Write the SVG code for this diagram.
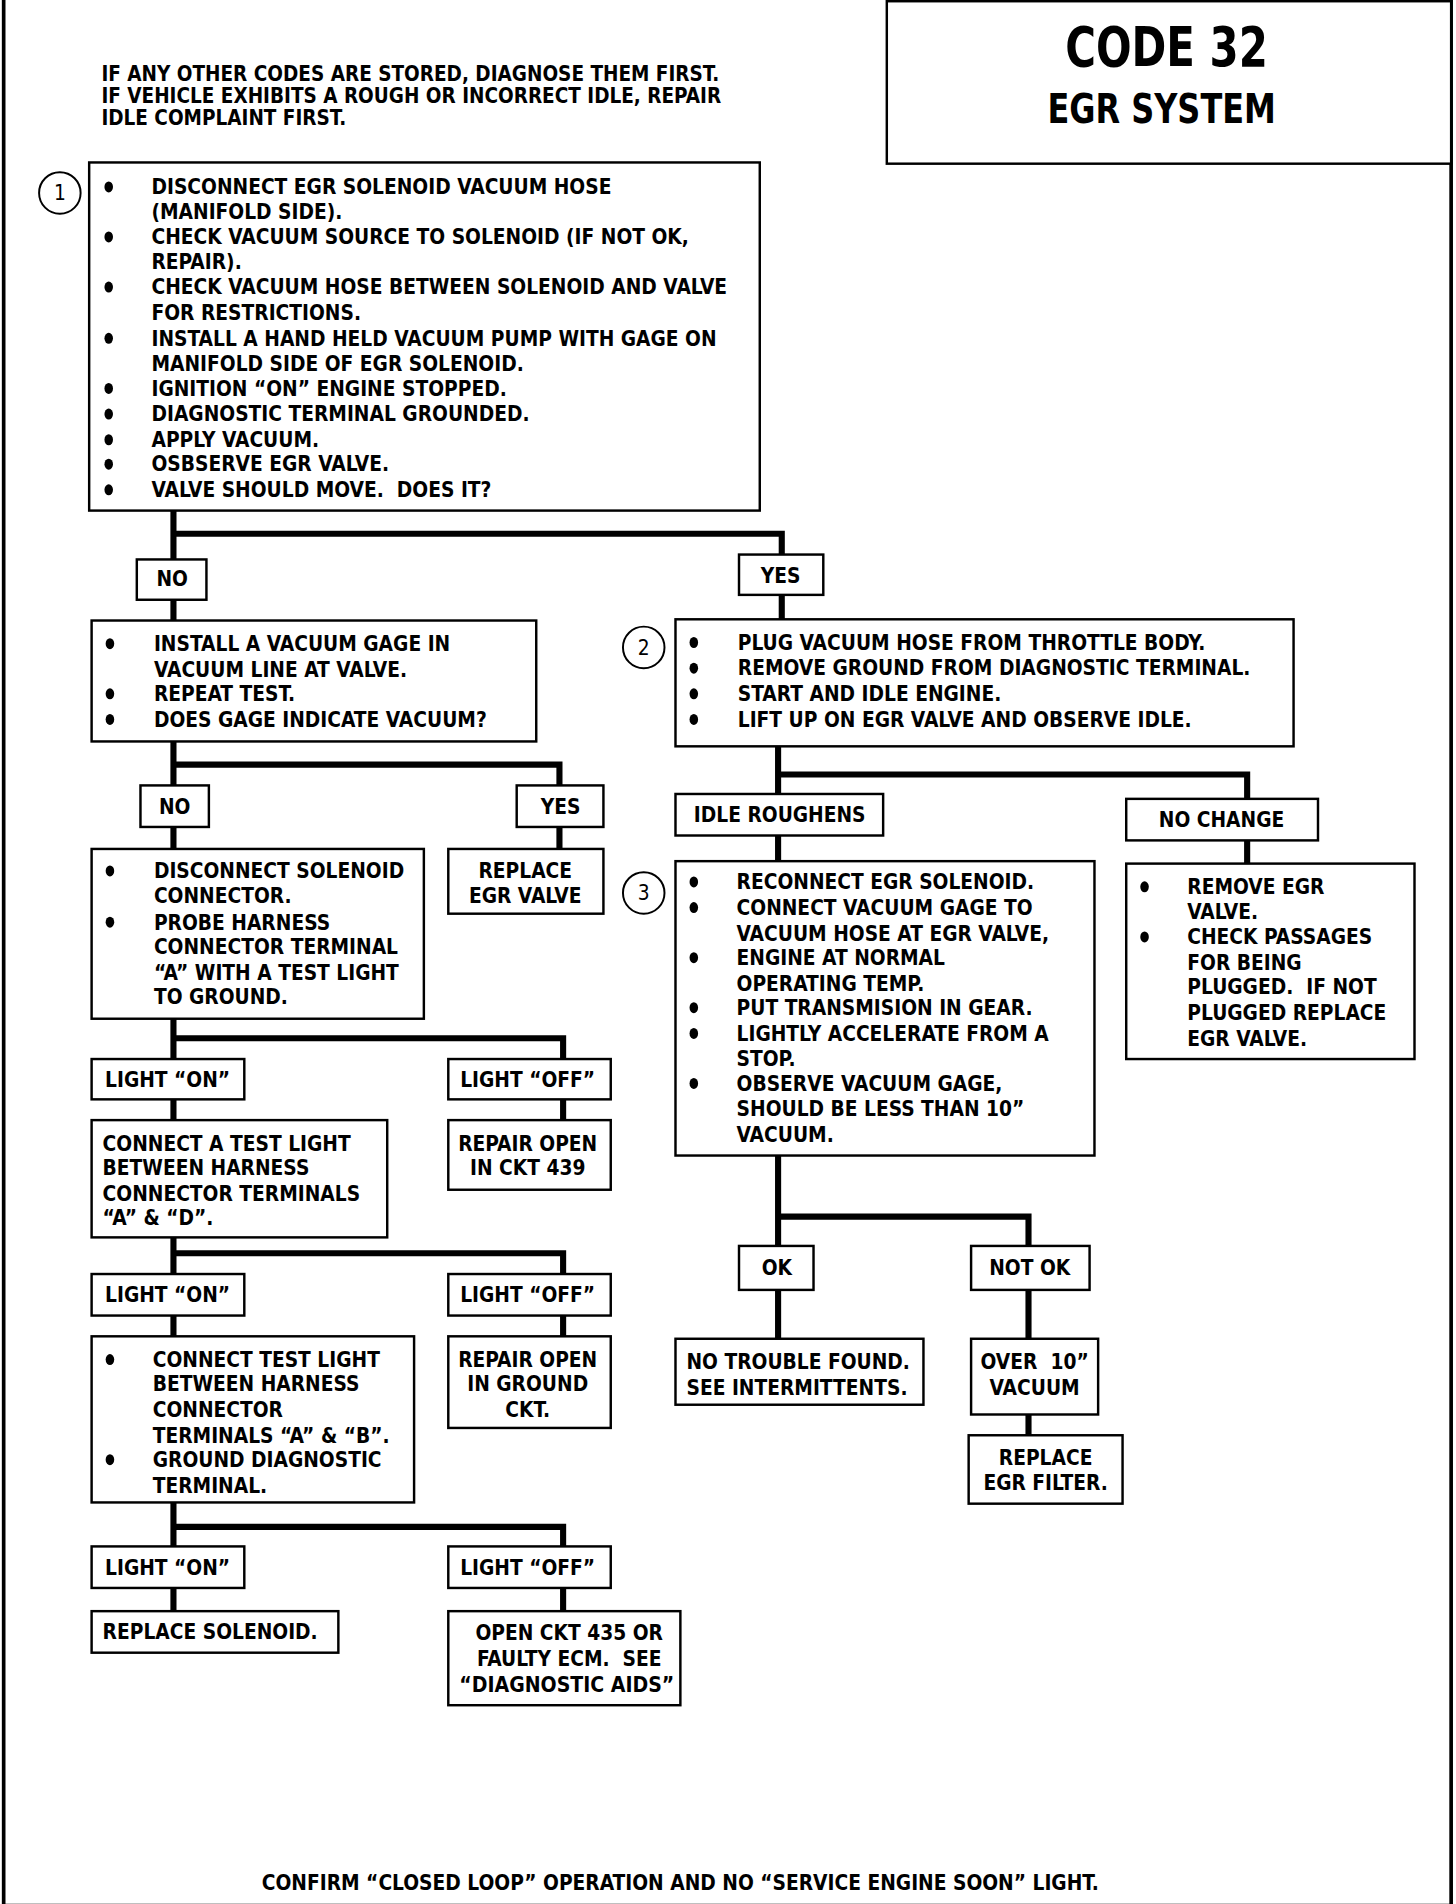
<svg xmlns="http://www.w3.org/2000/svg" width="1456" height="1904" viewBox="0 0 1456 1904">
<style>
.b{fill:#fff;stroke:#000;stroke-width:2}
.c{fill:none;stroke:#000;stroke-width:5}
.f{fill:none;stroke:#000;stroke-width:3}
text{font-family:'DejaVu Sans Condensed','Liberation Sans',sans-serif;font-weight:bold;font-size:17px;fill:#000;white-space:pre}
.m{text-anchor:middle}
.h{font-size:16.8px}
.d{fill:#000}
.n{fill:#fff;stroke:#000;stroke-width:1.6}
.nt{font-size:17px;text-anchor:middle;font-weight:normal}
</style>
<rect width="1456" height="1904" fill="#fff"/>
<g transform="scale(1.2215)">
<g id="frame">
<path class="f" d="M3,0 V1560 H1188 V0"/>
</g>
<g id="title">
<rect class="b" x="726" y="1" width="462" height="133"/>
<text class="m" x="955" y="54" style="font-size:45px" textLength="166" lengthAdjust="spacingAndGlyphs">CODE 32</text>
<text class="m" x="951" y="101" style="font-size:34px" textLength="187" lengthAdjust="spacingAndGlyphs">EGR SYSTEM</text>
</g>
<g id="note">
<text class="h" x="83" y="66">IF ANY OTHER CODES ARE STORED, DIAGNOSE THEM FIRST.</text>
<text class="h" x="83" y="84">IF VEHICLE EXHIBITS A ROUGH OR INCORRECT IDLE, REPAIR</text>
<text class="h" x="83" y="102">IDLE COMPLAINT FIRST.</text>
</g>
<g id="connectors">
<path class="c" d="M142,418 V458 M142,437 H640 V454 M142,491 V508 M640,487 V507"/>
<path class="c" d="M142,607 V643 M142,626 H458 V643 M142,677 V695 M458,677 V695"/>
<path class="c" d="M142,834 V867 M142,850 H461 V867 M142,900 V917 M461,900 V917"/>
<path class="c" d="M142,1013 V1043 M142,1026 H461 V1043 M142,1077 V1094 M461,1077 V1094"/>
<path class="c" d="M142,1230 V1266 M142,1250 H461 V1266 M142,1300 V1319 M461,1300 V1319"/>
<path class="c" d="M637,611 V650 M637,634 H1021 V654 M637,684 V705 M1021,688 V707"/>
<path class="c" d="M637,946 V1020 M637,996 H842 V1020 M637,1056 V1096 M842,1056 V1096 M842,1158 V1175"/>
</g>
<g id="step1">
<circle class="n" cx="49" cy="158" r="17"/>
<text class="nt" x="49" y="164">1</text>
<rect class="b" x="73" y="133" width="549" height="285"/>
<g class="d">
<ellipse cx="89" cy="153" rx="3.5" ry="4.5"/><ellipse cx="89" cy="194" rx="3.5" ry="4.5"/><ellipse cx="89" cy="235" rx="3.5" ry="4.5"/><ellipse cx="89" cy="277" rx="3.5" ry="4.5"/><ellipse cx="89" cy="318" rx="3.5" ry="4.5"/><ellipse cx="89" cy="339" rx="3.5" ry="4.5"/><ellipse cx="89" cy="360" rx="3.5" ry="4.5"/><ellipse cx="89" cy="380" rx="3.5" ry="4.5"/><ellipse cx="89" cy="401" rx="3.5" ry="4.5"/>
</g>
<text x="124" y="159">DISCONNECT EGR SOLENOID VACUUM HOSE</text>
<text x="124" y="179">(MANIFOLD SIDE).</text>
<text x="124" y="200">CHECK VACUUM SOURCE TO SOLENOID (IF NOT OK,</text>
<text x="124" y="220">REPAIR).</text>
<text x="124" y="241">CHECK VACUUM HOSE BETWEEN SOLENOID AND VALVE</text>
<text x="124" y="262">FOR RESTRICTIONS.</text>
<text x="124" y="283">INSTALL A HAND HELD VACUUM PUMP WITH GAGE ON</text>
<text x="124" y="304">MANIFOLD SIDE OF EGR SOLENOID.</text>
<text x="124" y="324">IGNITION “ON” ENGINE STOPPED.</text>
<text x="124" y="345">DIAGNOSTIC TERMINAL GROUNDED.</text>
<text x="124" y="366">APPLY VACUUM.</text>
<text x="124" y="386">OSBSERVE EGR VALVE.</text>
<text x="124" y="407">VALVE SHOULD MOVE.  DOES IT?</text>
</g>
<g id="no1"><rect class="b" x="112" y="458" width="57" height="33"/><text class="m" x="141" y="480">NO</text></g>
<g id="yes1"><rect class="b" x="605" y="454" width="69" height="33"/><text class="m" x="639" y="477">YES</text></g>
<g id="boxA">
<rect class="b" x="75" y="508" width="364" height="99"/>
<g class="d"><ellipse cx="90" cy="527" rx="3.5" ry="4.5"/><ellipse cx="90" cy="568" rx="3.5" ry="4.5"/><ellipse cx="90" cy="589" rx="3.5" ry="4.5"/></g>
<text x="126" y="533">INSTALL A VACUUM GAGE IN</text>
<text x="126" y="554">VACUUM LINE AT VALVE.</text>
<text x="126" y="574">REPEAT TEST.</text>
<text x="126" y="595">DOES GAGE INDICATE VACUUM?</text>
</g>
<g id="no2"><rect class="b" x="115" y="643" width="56" height="34"/><text class="m" x="143" y="666">NO</text></g>
<g id="yes2"><rect class="b" x="423" y="643" width="71" height="34"/><text class="m" x="459" y="666">YES</text></g>
<g id="boxB">
<rect class="b" x="75" y="695" width="272" height="139"/>
<g class="d"><ellipse cx="90" cy="713" rx="3.5" ry="4.5"/><ellipse cx="90" cy="755" rx="3.5" ry="4.5"/></g>
<text x="126" y="719">DISCONNECT SOLENOID</text>
<text x="126" y="739">CONNECTOR.</text>
<text x="126" y="761">PROBE HARNESS</text>
<text x="126" y="781">CONNECTOR TERMINAL</text>
<text x="126" y="802">“A” WITH A TEST LIGHT</text>
<text x="126" y="822">TO GROUND.</text>
</g>
<g id="replaceValve">
<rect class="b" x="367" y="695" width="127" height="53"/>
<text class="m" x="430" y="719">REPLACE</text>
<text class="m" x="430" y="739">EGR VALVE</text>
</g>
<g id="on1"><rect class="b" x="75" y="867" width="125" height="33"/><text x="86" y="890">LIGHT “ON”</text></g>
<g id="off1"><rect class="b" x="367" y="867" width="133" height="33"/><text class="m" x="432" y="890">LIGHT “OFF”</text></g>
<g id="boxC">
<rect class="b" x="75" y="917" width="242" height="96"/>
<text x="84" y="942">CONNECT A TEST LIGHT</text>
<text x="84" y="962">BETWEEN HARNESS</text>
<text x="84" y="983">CONNECTOR TERMINALS</text>
<text x="84" y="1003">“A” &amp; “D”.</text>
</g>
<g id="repair439">
<rect class="b" x="367" y="917" width="133" height="57"/>
<text class="m" x="432" y="942">REPAIR OPEN</text>
<text class="m" x="432" y="962">IN CKT 439</text>
</g>
<g id="on2"><rect class="b" x="75" y="1043" width="125" height="34"/><text x="86" y="1066">LIGHT “ON”</text></g>
<g id="off2"><rect class="b" x="367" y="1043" width="133" height="34"/><text class="m" x="432" y="1066">LIGHT “OFF”</text></g>
<g id="boxD">
<rect class="b" x="75" y="1094" width="264" height="136"/>
<g class="d"><ellipse cx="90" cy="1113" rx="3.5" ry="4.5"/><ellipse cx="90" cy="1195" rx="3.5" ry="4.5"/></g>
<text x="125" y="1119">CONNECT TEST LIGHT</text>
<text x="125" y="1139">BETWEEN HARNESS</text>
<text x="125" y="1160">CONNECTOR</text>
<text x="125" y="1181">TERMINALS “A” &amp; “B”.</text>
<text x="125" y="1201">GROUND DIAGNOSTIC</text>
<text x="125" y="1222">TERMINAL.</text>
</g>
<g id="repairGround">
<rect class="b" x="367" y="1094" width="133" height="75"/>
<text class="m" x="432" y="1119">REPAIR OPEN</text>
<text class="m" x="432" y="1139">IN GROUND</text>
<text class="m" x="432" y="1160">CKT.</text>
</g>
<g id="on3"><rect class="b" x="75" y="1266" width="125" height="34"/><text x="86" y="1289">LIGHT “ON”</text></g>
<g id="off3"><rect class="b" x="367" y="1266" width="133" height="34"/><text class="m" x="432" y="1289">LIGHT “OFF”</text></g>
<g id="replaceSolenoid"><rect class="b" x="75" y="1319" width="202" height="34"/><text x="84" y="1342">REPLACE SOLENOID.</text></g>
<g id="openCkt">
<rect class="b" x="367" y="1319" width="190" height="77"/>
<text class="m" x="466" y="1343">OPEN CKT 435 OR</text>
<text class="m" x="466" y="1364">FAULTY ECM.  SEE</text>
<text class="m" x="464" y="1385" textLength="176" lengthAdjust="spacingAndGlyphs">“DIAGNOSTIC AIDS”</text>
</g>
<g id="step2">
<circle class="n" cx="527" cy="530" r="17"/>
<text class="nt" x="527" y="536">2</text>
<rect class="b" x="553" y="507" width="506" height="104"/>
<g class="d"><ellipse cx="568" cy="526" rx="3.5" ry="4.5"/><ellipse cx="568" cy="547" rx="3.5" ry="4.5"/><ellipse cx="568" cy="568" rx="3.5" ry="4.5"/><ellipse cx="568" cy="589" rx="3.5" ry="4.5"/></g>
<text x="604" y="532">PLUG VACUUM HOSE FROM THROTTLE BODY.</text>
<text x="604" y="553">REMOVE GROUND FROM DIAGNOSTIC TERMINAL.</text>
<text x="604" y="574">START AND IDLE ENGINE.</text>
<text x="604" y="595">LIFT UP ON EGR VALVE AND OBSERVE IDLE.</text>
</g>
<g id="idleRough"><rect class="b" x="553" y="650" width="170" height="34"/><text x="568" y="673">IDLE ROUGHENS</text></g>
<g id="noChange"><rect class="b" x="922" y="654" width="157" height="34"/><text class="m" x="1000" y="677">NO CHANGE</text></g>
<g id="step3">
<circle class="n" cx="527" cy="731" r="17"/>
<text class="nt" x="527" y="737">3</text>
<rect class="b" x="553" y="705" width="343" height="241"/>
<g class="d"><ellipse cx="568" cy="722" rx="3.5" ry="4.5"/><ellipse cx="568" cy="743" rx="3.5" ry="4.5"/><ellipse cx="568" cy="784" rx="3.5" ry="4.5"/><ellipse cx="568" cy="825" rx="3.5" ry="4.5"/><ellipse cx="568" cy="846" rx="3.5" ry="4.5"/><ellipse cx="568" cy="887" rx="3.5" ry="4.5"/></g>
<text x="603" y="728">RECONNECT EGR SOLENOID.</text>
<text x="603" y="749">CONNECT VACUUM GAGE TO</text>
<text x="603" y="770">VACUUM HOSE AT EGR VALVE,</text>
<text x="603" y="790">ENGINE AT NORMAL</text>
<text x="603" y="811">OPERATING TEMP.</text>
<text x="603" y="831">PUT TRANSMISION IN GEAR.</text>
<text x="603" y="852">LIGHTLY ACCELERATE FROM A</text>
<text x="603" y="873">STOP.</text>
<text x="603" y="893">OBSERVE VACUUM GAGE,</text>
<text x="603" y="914">SHOULD BE LESS THAN 10”</text>
<text x="603" y="935">VACUUM.</text>
</g>
<g id="boxNC">
<rect class="b" x="922" y="707" width="236" height="160"/>
<g class="d"><ellipse cx="937" cy="726" rx="3.5" ry="4.5"/><ellipse cx="937" cy="767" rx="3.5" ry="4.5"/></g>
<text x="972" y="732">REMOVE EGR</text>
<text x="972" y="752">VALVE.</text>
<text x="972" y="773">CHECK PASSAGES</text>
<text x="972" y="794">FOR BEING</text>
<text x="972" y="814">PLUGGED.  IF NOT</text>
<text x="972" y="835">PLUGGED REPLACE</text>
<text x="972" y="856">EGR VALVE.</text>
</g>
<g id="ok"><rect class="b" x="605" y="1020" width="61" height="36"/><text class="m" x="636" y="1044">OK</text></g>
<g id="notOk"><rect class="b" x="795" y="1020" width="97" height="36"/><text class="m" x="843" y="1044">NOT OK</text></g>
<g id="noTrouble">
<rect class="b" x="553" y="1096" width="203" height="54"/>
<text x="562" y="1121">NO TROUBLE FOUND.</text>
<text x="562" y="1142">SEE INTERMITTENTS.</text>
</g>
<g id="over10">
<rect class="b" x="795" y="1096" width="104" height="62"/>
<text class="m" x="847" y="1121">OVER  10”</text>
<text class="m" x="847" y="1142">VACUUM</text>
</g>
<g id="replaceFilter">
<rect class="b" x="793" y="1175" width="126" height="56"/>
<text class="m" x="856" y="1199">REPLACE</text>
<text class="m" x="856" y="1220">EGR FILTER.</text>
</g>
<g id="footer">
<text class="m" x="557" y="1547">CONFIRM “CLOSED LOOP” OPERATION AND NO “SERVICE ENGINE SOON” LIGHT.</text>
</g>
</g>
</svg>
